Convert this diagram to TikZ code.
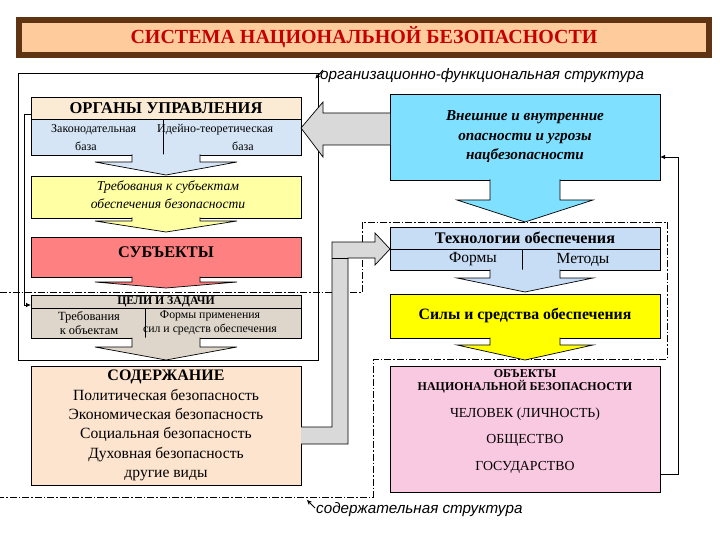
\documentclass[tikz,border=0pt]{standalone}
\usepackage{fontspec}
\setmainfont{Liberation Serif}
\setsansfont{Liberation Sans}
\usetikzlibrary{calc,arrows.meta}
\definecolor{tbrown}{HTML}{5E3412}
\definecolor{tpeach}{HTML}{FDCB9C}
\definecolor{tred}{HTML}{C40000}
\definecolor{cream}{HTML}{FBEBD5}
\definecolor{lblue}{HTML}{D5E5F6}
\definecolor{pyellow}{HTML}{FFFFA3}
\definecolor{salmon}{HTML}{FF8080}
\definecolor{beige}{HTML}{DED6CA}
\definecolor{peach}{HTML}{FDE4CF}
\definecolor{cyanb}{HTML}{80E0FF}
\definecolor{tblue}{HTML}{C6DDF5}
\definecolor{yel}{HTML}{FFFF00}
\definecolor{pinkb}{HTML}{F9C8E1}
\definecolor{garr}{HTML}{D9D9D9}
\newcommand{\callarrow}[6]{%
  \filldraw[fill=#2, draw=black, line width=0.7pt]
   ($(#1.south)+(-#3,-0.5)$) -- ++(0,#5+0.5) -- ++(#3-#4,0) -- ++(#4,#6) -- ++(#4,-#6) -- ++(#3-#4,0) -- ++(0,-#5-0.5);
}
\begin{document}
\begin{tikzpicture}[x=1pt,y=-1pt,
  bx/.style={draw=black, line width=0.7pt, inner sep=0pt, outer sep=0pt, align=center},
  lcol/.style={minimum width=270pt},
  rcol/.style={minimum width=270pt},
  txt/.style={inner sep=0pt, align=center},
  lbl/.style={font=\sffamily\itshape\fontsize{15.2}{18}\selectfont, inner sep=0pt},
  dd/.style={line width=0.7pt, dash pattern=on 7pt off 2pt on 1.5pt off 2pt},
  conn/.style={line width=0.8pt, -{Latex[length=5pt,width=4.5pt]}},
  grey/.style={fill=garr, draw=black, line width=0.7pt},
]
\useasboundingbox (0,0) rectangle (720,540);
\fill[white] (0,0) rectangle (720,540);

% title
\node[draw=tbrown, line width=6pt, fill=tpeach, minimum width=690pt, minimum height=35pt, inner sep=0pt, text=tred, font=\bfseries\fontsize{20}{24}\selectfont] (title) at (364,37.5) {СИСТЕМА НАЦИОНАЛЬНОЙ БЕЗОПАСНОСТИ};

% frames
\node[draw, line width=0.8pt, minimum width=300pt, minimum height=287pt, inner sep=0pt] (orgframe) at (168,216.5) {};
\draw[dd] (0,292) -- (362,292) -- (362,222) -- (667,222) -- (667,359) -- (373,359) -- (373,497) -- (0,497);

% left column
\node[bx, lcol, fill=cream, minimum height=22pt, font=\bfseries\fontsize{16.5}{19}\selectfont] (organh) at (166,108) {ОРГАНЫ УПРАВЛЕНИЯ};
\node[bx, lcol, fill=lblue, minimum height=36pt] (organb) at (166,137) {};
\draw[line width=0.7pt] ($(organb.north)+(-3,0)$) -- ($(organb.south)+(-3,0)$);
\node[txt, align=left, anchor=west, font=\fontsize{12}{18}\selectfont] (zak) at (51,137.5) {Законодательная\\\hspace*{24pt}база};
\node[txt, align=left, anchor=west, font=\fontsize{12}{18}\selectfont] (ideyn) at (157,137.5) {Идейно-теоретическая\\\hspace*{75pt}база};
\callarrow{organb}{lblue}{34}{71}{7}{13}

\node[bx, lcol, fill=pyellow, minimum height=42pt] (trebov) at (166,197) {};
\node[txt, font=\itshape\fontsize{13.6}{18}\selectfont] (trebovt) at (168,195) {Требования к субъектам\\обеспечения безопасности};
\callarrow{trebov}{pyellow}{34}{71}{3}{11}

\node[bx, lcol, fill=salmon, minimum height=40pt] (subj) at (166,257) {};
\node[txt, font=\bfseries\fontsize{16.3}{19}\selectfont] (subjt) at (166,252.5) {СУБЪЕКТЫ};
\callarrow{subj}{salmon}{34}{71}{5}{6}

\node[bx, lcol, fill=beige, minimum height=13pt, font=\bfseries\fontsize{11.8}{13}\selectfont] (celih) at (166,301.5) {ЦЕЛИ И ЗАДАЧИ};
\node[bx, lcol, fill=beige, minimum height=30pt] (celib) at (166,323) {};
\draw[line width=0.7pt] ($(celib.north)+(-21,0)$) -- ($(celib.south)+(-21,0)$);
\node[txt, font=\fontsize{12.5}{13.5}\selectfont] (celil) at (89,323) {Требования\\к объектам};
\node[txt, font=\fontsize{11.8}{13.5}\selectfont] (celir) at (210,323) {Формы применения\\сил и средств обеспечения};
\callarrow{celib}{beige}{34}{71}{9}{13}

\node[bx, lcol, fill=peach, minimum height=119pt, font=\fontsize{15.6}{19.3}\selectfont] (soderzh) at (166,425.5) {{\bfseries\fontsize{16}{19.3}\selectfont СОДЕРЖАНИЕ}\\Политическая безопасность\\Экономическая безопасность\\Социальная безопасность\\Духовная безопасность\\другие виды};

% right column
\node[bx, rcol, fill=cyanb, minimum height=86pt, font=\bfseries\itshape\fontsize{15.2}{19.5}\selectfont] (vnesh) at (525,137) {Внешние и внутренние\\опасности и угрозы\\нацбезопасности};
\callarrow{vnesh}{cyanb}{35}{68}{20}{22}

\node[bx, rcol, fill=tblue, minimum height=22pt, font=\bfseries\fontsize{16.2}{18}\selectfont] (techh) at (525,238) {Технологии обеспечения};
\node[bx, rcol, fill=tblue, minimum height=21pt] (techb) at (525,259.5) {};
\draw[line width=0.7pt] ($(techb.north)+(-3,0)$) -- ($(techb.south)+(-3,0)$);
\node[txt, font=\fontsize{15.5}{18}\selectfont] (formy) at (473,259.5) {Формы};
\node[txt, font=\fontsize{15.5}{18}\selectfont] (metody) at (583,259.5) {Методы};
\callarrow{techb}{tblue}{35}{68}{8}{14}

\node[bx, rcol, fill=yel, minimum height=44pt, font=\bfseries\fontsize{15.8}{18}\selectfont] (sily) at (525,316) {Силы и средства обеспечения};
\callarrow{sily}{yel}{35}{68}{7}{15}

\node[bx, rcol, fill=pinkb, minimum height=126pt] (obj) at (525,429) {};
\node[txt, font=\bfseries\fontsize{12}{13}\selectfont] (objt) at (525,381.5) {ОБЪЕКТЫ\\НАЦИОНАЛЬНОЙ БЕЗОПАСНОСТИ};
\node[txt, font=\fontsize{13.8}{14}\selectfont] (chel) at (525,414) {ЧЕЛОВЕК (ЛИЧНОСТЬ)};
\node[txt, font=\fontsize{13.8}{14}\selectfont] (obsh) at (525,440) {ОБЩЕСТВО};
\node[txt, font=\fontsize{13.8}{14}\selectfont] (gos) at (525,467) {ГОСУДАРСТВО};

% grey arrow: threats -> management bodies
\filldraw[grey] ($(vnesh.west)+(0,-24)$) -- ($(vnesh.west)+(-67,-24)$) -- ($(vnesh.west)+(-67,-35)$) -- ($(organb.east)+(0,-9)$) -- ($(vnesh.west)+(-67,20)$) -- ($(vnesh.west)+(-67,8)$) -- ($(vnesh.west)+(0,8)$);

% grey bent arrow: content -> technologies
\coordinate (ttip) at (techb.north west);
\filldraw[grey] ($(soderzh.east)+(0,1.5)$) -- ($(soderzh.east)+(31,1.5)$) -- ($(ttip)+(-58,-7)$) -- ($(ttip)+(-15,-7)$) -- ($(ttip)+(-15,-16)$) -- (ttip) -- ($(ttip)+(-15,16)$) -- ($(ttip)+(-15,9)$) -- ($(ttip)+(-42,9)$) -- ($(soderzh.east)+(47,18.5)$) -- ($(soderzh.east)+(0,18.5)$);
\draw[line width=1pt] ($(ttip)+(-58,9)$) -- ($(ttip)+(-42,9)$);

% connectors
\draw[conn] ($(obj.east)+(0,45)$) -- ++(18,0) |- ($(vnesh.east)+(0,20)$);
\draw[conn] ($(organh.west)+(0,6)$) -- ++(-7,0) |- ($(celih.west)+(0,3.5)$);

% labels
\node[lbl, anchor=west] (orglbl) at (320,76) {организационно-функциональная структура};
\draw[line width=1pt, -{Stealth[length=5pt,width=4.5pt]}] ($(orglbl.west)+(3,-6)$) -- ($(orgframe.north east)+(-3,6)$);
\node[lbl, anchor=west] (sodlbl) at (316,510) {содержательная структура};
\coordinate (sodtip) at (307,500);
\draw[line width=1pt, -{Stealth[length=5pt,width=4.5pt]}] ($(sodlbl.west)+(-1,-2)$) -- (sodtip);
\end{tikzpicture}
\end{document}
